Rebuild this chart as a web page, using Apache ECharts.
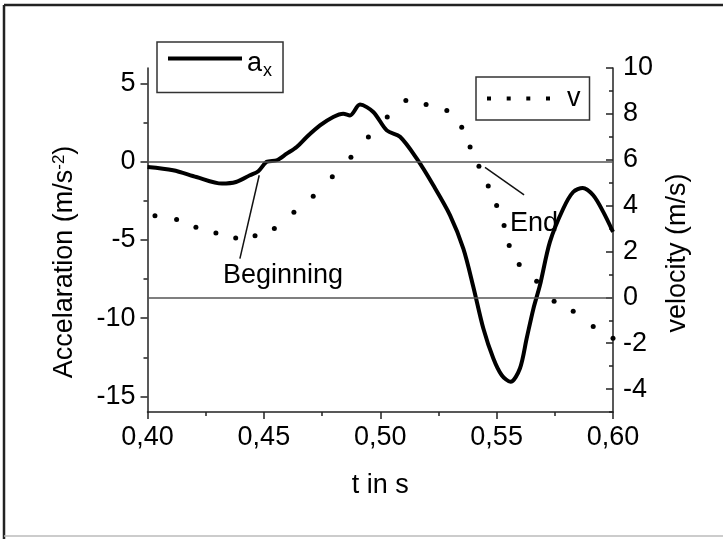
<!DOCTYPE html>
<html>
<head>
<meta charset="utf-8">
<script src="https://cdn.jsdelivr.net/npm/echarts@6/dist/echarts.min.js"></script>
<style>
  html, body { margin: 0; padding: 0; background: #fff; }
  #chart { width: 723px; height: 539px; }
</style>
</head>
<body>
<div id="chart"></div>
<script>
// acceleration a_x (left axis)
const timeAccel = [0.400, 0.411, 0.421, 0.432, 0.438, 0.444, 0.4476, 0.4512, 0.4555, 0.4598,
  0.4641, 0.4684, 0.4741, 0.4798, 0.4841, 0.487, 0.4913, 0.497, 0.5028, 0.5085,
  0.5157, 0.5228, 0.530, 0.5357, 0.540, 0.5443, 0.5486, 0.5522, 0.556, 0.560,
  0.5629, 0.5658, 0.5686, 0.5729, 0.5786, 0.5829, 0.587, 0.5915, 0.5958, 0.600]
const accel = [-0.33, -0.54, -0.97, -1.39, -1.29, -0.86, -0.6, 0, 0.1, 0.52,
  0.95, 1.59, 2.33, 2.87, 3.08, 2.97, 3.66, 3.19, 2.01, 1.6,
  0.2, -1.5, -3.42, -5.55, -8.0, -10.66, -12.58, -13.65, -14.07, -13.22,
  -11.3, -9.39, -7.9, -5.12, -3.0, -1.93, -1.67, -2.14, -3.2, -4.48]

// velocity v (right axis), one value per dot
const timeVel = [0.4032, 0.4125, 0.4208, 0.4294, 0.4379, 0.4462, 0.4545, 0.4629, 0.4712, 0.4794,
  0.4874, 0.4949, 0.503, 0.511, 0.5197, 0.5286, 0.535, 0.5386, 0.5424, 0.5464,
  0.550, 0.5532, 0.5554, 0.5597, 0.5672, 0.5747, 0.5829, 0.5915, 0.600]
const vel = [3.56, 3.39, 3.06, 2.81, 2.59, 2.69, 3.0, 3.71, 4.41, 5.26,
  6.11, 6.99, 7.86, 8.58, 8.41, 8.15, 7.42, 6.55, 5.72, 4.85,
  4.0, 3.13, 2.26, 1.43, 0.7, -0.17, -0.61, -1.27, -1.78]

const accelMajor = [-15, -10, -5, 0, 5]
const accelMinor = [-12.5, -7.5, -2.5, 2.5]
const velMajor = [-4, -2, 0, 2, 4, 6, 8, 10]
const velMinor = [-5, -3, -1, 1, 3, 5, 7, 9]

// annotation pointers: [t, value] pairs
const beginLine = [[0.4397, -6.19], [0.448, -0.86]]
const beginText = [0.4582, -7.3]
const endLine = [[0.545, 5.67], [0.5618, 4.47]]
const endText = [0.5661, 3.2]

const FONT = "'Liberation Sans', Arial, sans-serif"
const INK = '#000'
const SIZE = 27

const chart = echarts.init(document.getElementById('chart'), null, { renderer: 'canvas' })

const tickFont = { fontFamily: FONT, fontSize: SIZE, color: INK }

function noteLabel(text) {
  return {
    show: true, position: 'inside', formatter: text,
    fontFamily: FONT, fontSize: SIZE, color: INK,
  }
}

chart.setOption({
  animation: false,
  backgroundColor: '#fff',
  grid: { left: 147.5, right: 110, top: 68, bottom: 127, containLabel: false },
  legend: [
    {
      data: [{ name: 'a_x', icon: 'rect' }],
      left: 157, top: 42,
      padding: [8, 11, 12, 11],
      itemWidth: 74, itemHeight: 4,
      borderColor: '#333', borderWidth: 1.5, borderRadius: 0,
      selectedMode: false,
      formatter: () => '{a|a}{x|x}',
      textStyle: {
        color: INK,
        padding: [10, 0, 0, 0],
        rich: {
          a: { fontFamily: FONT, fontSize: SIZE, color: INK },
          x: { fontFamily: FONT, fontSize: 18, color: INK, padding: [16, 0, 0, 1] },
        },
      },
    },
    {
      data: [{ name: 'v', icon: 'path://M0,0L4,0L4,4L0,4Z M19.7,0L23.7,0L23.7,4L19.7,4Z M39.3,0L43.3,0L43.3,4L39.3,4Z M59,0L63,0L63,4L59,4Z' }],
      left: 476, top: 77,
      padding: [8, 9, 8, 11],
      itemWidth: 63, itemHeight: 4,
      borderColor: '#333', borderWidth: 1.5, borderRadius: 0,
      selectedMode: false,
      formatter: () => '{v|v}',
      textStyle: {
        color: INK,
        rich: { v: { fontFamily: FONT, fontSize: SIZE, color: INK, padding: [0, 0, 0, 12] } },
      },
    },
  ],
  xAxis: {
    type: 'value', min: 0.4, max: 0.6, interval: 0.05,
    name: 't in s', nameLocation: 'middle', nameGap: 60,
    nameTextStyle: { fontFamily: FONT, fontSize: SIZE, color: INK },
    axisLine: { show: true, onZero: false, lineStyle: { color: '#222', width: 1.5 } },
    axisTick: { show: true, inside: false, length: 7, lineStyle: { color: '#222', width: 1.5 } },
    minorTick: { show: true, splitNumber: 2, length: 4, lineStyle: { color: '#222', width: 1.5 } },
    axisLabel: Object.assign({ margin: 12, formatter: (v) => v.toFixed(2).replace('.', ',') }, tickFont),
    splitLine: { show: false },
  },
  yAxis: [
    {
      type: 'value', min: -16, max: 6, position: 'left',
      name: '{n|Accelaration (m/s}{s|-2}{n|)}',
      nameLocation: 'middle', nameGap: 68,
      nameTextStyle: {
        padding: [0, 44, 0, 0],
        rich: {
          n: { fontFamily: FONT, fontSize: SIZE, color: INK },
          s: { fontFamily: FONT, fontSize: 17, color: INK, padding: [0, 0, 12, 0] },
        },
      },
      axisLine: { show: true, onZero: false, lineStyle: { color: '#222', width: 1.5 } },
      axisTick: { show: true, inside: false, length: 7, customValues: accelMajor, lineStyle: { color: '#222', width: 1.5 } },
      axisLabel: Object.assign({ margin: 12, customValues: accelMajor }, tickFont),
      splitLine: { show: false },
    },
    {
      type: 'value', min: -5, max: 10, position: 'right',
      name: 'velocity (m/s)',
      nameLocation: 'middle', nameGap: 48,
      nameTextStyle: { fontFamily: FONT, fontSize: SIZE, color: INK, padding: [0, 26, 0, 0] },
      axisLine: { show: true, onZero: false, lineStyle: { color: '#222', width: 1.5 } },
      axisTick: { show: true, inside: true, length: 7, customValues: velMajor, lineStyle: { color: '#222', width: 1.5 } },
      axisLabel: Object.assign({ margin: 10, customValues: velMajor }, tickFont),
      splitLine: { show: false },
    },
    {
      // minor ticks of the acceleration axis
      type: 'value', min: -16, max: 6, position: 'left',
      axisLine: { show: false },
      axisTick: { show: true, inside: false, length: 4, customValues: accelMinor, lineStyle: { color: '#222', width: 1.5 } },
      axisLabel: { show: false },
      splitLine: { show: false },
    },
    {
      // minor ticks of the velocity axis
      type: 'value', min: -5, max: 10, position: 'right',
      axisLine: { show: false },
      axisTick: { show: true, inside: true, length: 4, customValues: velMinor, lineStyle: { color: '#222', width: 1.5 } },
      axisLabel: { show: false },
      splitLine: { show: false },
    },
  ],
  series: [
    {
      name: 'a_x', type: 'line', yAxisIndex: 0,
      data: timeAccel.map((t, i) => [t, accel[i]]),
      showSymbol: false, smooth: 0.3,
      lineStyle: { color: '#000', width: 4 },
      itemStyle: { color: '#000' },
      z: 3,
      markLine: {
        silent: true, symbol: ['none', 'none'],
        label: { show: false },
        data: [
          { yAxis: 0, lineStyle: { color: '#555', width: 1.5, type: 'solid' } },
          [{ coord: beginLine[0] }, { coord: beginLine[1], lineStyle: { color: '#111', width: 1.5, type: 'solid' } }],
        ],
      },
      markPoint: {
        silent: true, symbol: 'circle', symbolSize: 1,
        itemStyle: { color: 'rgba(0,0,0,0)' },
        data: [{ coord: beginText, label: noteLabel('Beginning') }],
      },
    },
    {
      name: 'v', type: 'line', yAxisIndex: 1,
      data: timeVel.map((t, i) => [t, vel[i]]),
      symbol: 'circle', symbolSize: 5, showSymbol: true, showAllSymbol: true,
      lineStyle: { width: 0, opacity: 0 },
      itemStyle: { color: '#000' },
      z: 2,
      markLine: {
        silent: true, symbol: ['none', 'none'],
        label: { show: false },
        data: [
          { yAxis: 0, lineStyle: { color: '#555', width: 1.5, type: 'solid' } },
          [{ coord: endLine[0] }, { coord: endLine[1], lineStyle: { color: '#111', width: 1.5, type: 'solid' } }],
        ],
      },
      markPoint: {
        silent: true, symbol: 'circle', symbolSize: 1,
        itemStyle: { color: 'rgba(0,0,0,0)' },
        data: [{ coord: endText, label: noteLabel('End') }],
      },
    },
  ],
  graphic: [
    { type: 'line', shape: { x1: 4, y1: 5, x2: 723, y2: 5 }, style: { stroke: '#222', lineWidth: 2.5 } },
    { type: 'line', shape: { x1: 4, y1: 5, x2: 4, y2: 539 }, style: { stroke: '#222', lineWidth: 2.5 } },
    { type: 'line', shape: { x1: 4, y1: 536, x2: 723, y2: 536 }, style: { stroke: '#bbb', lineWidth: 1.5 } },
  ],
})
</script>
</body>
</html>
